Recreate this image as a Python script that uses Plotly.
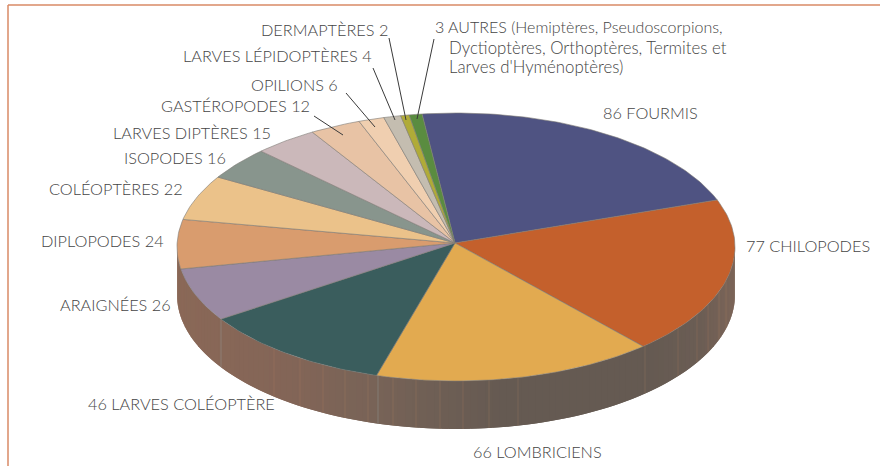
import math
import plotly.graph_objects as go

categories = ["FOURMIS", "CHILOPODES", "LOMBRICIENS", "LARVES COLÉOPTÈRE", "ARAIGNÉES", "DIPLOPODES",
              "COLÉOPTÈRES", "ISOPODES", "LARVES DIPTÈRES", "GASTÉROPODES", "OPILIONS",
              "LARVES LÉPIDOPTÈRES", "DERMAPTÈRES", "AUTRES"]
values = [86, 77, 66, 46, 26, 24, 22, 16, 15, 12, 6, 4, 2, 3]
colors = ["#4f5382", "#c4602c", "#e2aa50", "#3a5d5d", "#9a8aa3", "#d99c6e", "#ebc28a",
          "#88958d", "#cbb8ba", "#e8c3a5", "#f0cfb0", "#c4bdb0", "#b0ab38", "#5a8c40"]

label_texts = ["DERMAPTÈRES 2", "LARVES LÉPIDOPTÈRES 4", "OPILIONS 6", "GASTÉROPODES 12", "LARVES DIPTÈRES 15",
               "ISOPODES 16", "COLÉOPTÈRES 22", "DIPLOPODES 24", "ARAIGNÉES 26", "46 LARVES COLÉOPTÈRE",
               "66 LOMBRICIENS", "77 CHILOPODES", "86 FOURMIS", "3 AUTRES (Hemiptères, Pseudoscorpions,",
               "Dyctioptères, Orthoptères, Termites et", "Larves d'Hyménoptères)"]
label_x = [260, 182, 250, 160, 112, 123, 48, 40, 59, 87, 472, 745, 602, 434, 448, 448]
label_y = [29, 55, 84, 105, 132, 157, 188, 240, 304, 403, 451, 245, 112, 26, 47, 66]
label_size = [16.3] * 13 + [16, 16.8, 16.8]
leaders = [((389, 38), (406, 120)), ((373, 68), (395, 120)), ((346, 93), (375, 127)),
           ((314, 116), (343, 135)), ((434, 39), (417, 119))]
seam_x = [221, 274, 300, 323, 345, 368, 378, 393, 416, 440, 463, 489, 518, 645, 678, 697, 708, 719, 726]

CX, CY, RX, RY = 456, 247, 279, 134
HUB = (455, 243)
DEPTH = 48
START = -7.0


def pt(deg, dy=0):
    r = math.radians(deg)
    return CX + RX * math.sin(r), CY - RY * math.cos(r) + dy


def lerp_hex(stops, x):
    for (x0, c0), (x1, c1) in zip(stops, stops[1:]):
        if x <= x1:
            t = max(0, (x - x0) / (x1 - x0))
            rgb = [round(int(c0[i:i + 2], 16) * (1 - t) + int(c1[i:i + 2], 16) * t) for i in (1, 3, 5)]
            return "rgb(%d,%d,%d)" % tuple(rgb)
    return stops[-1][1]


side_stops = [(177, "#8a6857"), (290, "#836557"), (378, "#776357"), (500, "#655a52"),
              (650, "#655a52"), (700, "#6b5d54"), (735, "#7c6558")]

fig = go.Figure()

# Cylinder wall: overlapping strips along the front half of the ellipse
step = 1.5
a = 90.0
while a < 270:
    b = min(a + 2 * step, 270)
    p0, p1 = pt(a), pt(b)
    q0, q1 = pt(a, DEPTH), pt(b, DEPTH)
    col = lerp_hex(side_stops, pt(a + step / 2)[0])
    fig.add_trace(go.Scatter(x=[p0[0], p1[0], q1[0], q0[0], p0[0]], y=[p0[1], p1[1], q1[1], q0[1], p0[1]],
                             mode="none", fill="toself", fillcolor=col, hoverinfo="skip"))
    a += step

for sx in seam_x:
    ang = math.asin(max(-1, min(1, (sx - CX) / RX)))
    y0 = CY + RY * math.cos(ang)
    col = "rgba(190,140,100,0.28)" if sx != 221 and sx != 378 else "rgba(150,160,160,0.5)"
    fig.add_trace(go.Scatter(x=[sx, sx], y=[y0, y0 + DEPTH], mode="lines", line=dict(color=col, width=0.8),
                             hoverinfo="skip"))

# Top face: one wedge per value
total = sum(values)
angle = START
for name, v, c in zip(categories, values, colors):
    span = v / total * 360
    n = max(2, int(span))
    arc = [pt(angle + span * i / n) for i in range(n + 1)]
    xs = [HUB[0]] + [p[0] for p in arc] + [HUB[0]]
    ys = [HUB[1]] + [p[1] for p in arc] + [HUB[1]]
    fig.add_trace(go.Scatter(x=xs, y=ys, mode="lines", fill="toself", fillcolor=c,
                             line=dict(color="#7d7a76", width=0.6), name=name,
                             text="%s %d" % (name, v), hoverinfo="text"))
    angle += span

for (x0, y0), (x1, y1) in leaders:
    fig.add_trace(go.Scatter(x=[x0, x1], y=[y0, y1], mode="lines", line=dict(color="#3a3a3a", width=1),
                             hoverinfo="skip"))

for t, x, y, s in zip(label_texts, label_x, label_y, label_size):
    fig.add_annotation(x=x, y=y, text=t, showarrow=False, xanchor="left", yanchor="middle", xshift=-1,
                       font=dict(family="Lato", size=s, color="#454545", weight=300))

frame = "#d98a66"
fig.add_shape(type="line", x0=8, y0=5, x1=880, y1=5, line=dict(color=frame, width=1.5))
fig.add_shape(type="line", x0=8, y0=5, x1=8, y1=466, line=dict(color=frame, width=1.5))

fig.update_layout(width=880, height=466, margin=dict(l=0, r=0, t=0, b=0), showlegend=False,
                  paper_bgcolor="white", plot_bgcolor="white",
                  xaxis=dict(range=[0, 880], visible=False, fixedrange=True),
                  yaxis=dict(range=[466, 0], visible=False, fixedrange=True))
fig.write_html("out.html", config={"displayModeBar": False},
               post_script="document.body.style.margin='0';document.documentElement.style.overflow='hidden';")
